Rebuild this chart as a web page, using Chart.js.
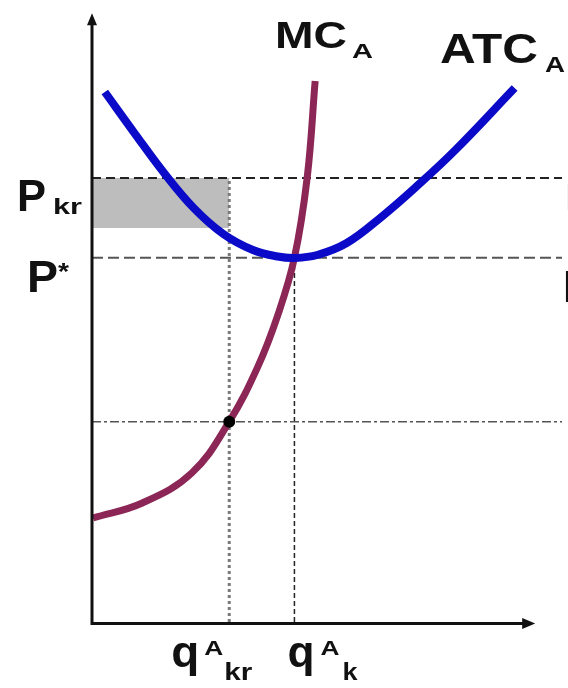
<!DOCTYPE html>
<html>
<head>
<meta charset="utf-8">
<script src="https://cdn.jsdelivr.net/npm/chart.js@4/dist/chart.umd.min.js"></script>
<style>
  html, body { margin: 0; padding: 0; background: #ffffff; }
  #wrap { width: 568px; height: 688px; }
</style>
</head>
<body>
<div id="wrap"><canvas id="c" width="568" height="688"></canvas></div>
<script>
// ---- Data (quantity on x, price/cost on y; arbitrary units 0..100) ----
const ATC_Q = [2.73, 9.03, 15.34, 21.64, 27.94, 34.24, 39.50, 43.07, 47.90, 54.20, 61.55, 68.91, 77.31, 89.92];
const ATC_P = [86.89, 80.16, 73.61, 67.87, 63.61, 60.98, 59.92, 59.67, 60.16, 62.13, 66.39, 71.31, 77.38, 87.54];

const MC_Q = [0.21, 10.71, 21.22, 29.20, 35.29, 39.50, 43.07, 45.80, 47.48];
const MC_P = [17.05, 19.51, 24.43, 32.84, 41.87, 50.23, 59.70, 72.95, 88.69];

const PRICE_LEVELS = [72.8, 59.7];          // P_kr, P*
const PRICE_NAMES = ['P', 'P'];
const PRICE_SUBS = ['kr', '*'];
const LOSS_LOW = 64.6;                      // lower edge of the shaded loss area
const Q_LEVELS = [29.2, 43.07];             // q^A_kr, q^A_k
const Q_SUBS = ['kr', 'k'];
const MC_AT_QKR = 32.84;                    // MC at q^A_kr (dot, dash-dot line)
const X_MAX = 100, Y_MAX = 100;
const AXIS_X_END = 94.3, AXIS_Y_END = 99.8;
const CURVE_NAMES = ['MC', 'ATC'];

const pts = (xs, ys) => xs.map((x, i) => ({ x: x, y: ys[i] }));
const FONT = "'Liberation Sans', Arial, Helvetica, sans-serif";

const bgPlugin = {
  id: 'bg',
  beforeDraw(chart) {
    const ctx = chart.ctx;
    ctx.save();
    ctx.fillStyle = '#ffffff';
    ctx.fillRect(0, 0, chart.width, chart.height);
    ctx.restore();
  }
};

function txt(ctx, s, left, baseline, size, width, weight) {
  ctx.save();
  ctx.font = (weight || 'bold') + ' ' + size + 'px ' + FONT;
  ctx.textBaseline = 'alphabetic';
  ctx.textAlign = 'left';
  const w = ctx.measureText(s).width;
  const sx = width ? width / w : 1;
  ctx.translate(left, baseline);
  ctx.scale(sx, 1);
  ctx.fillStyle = '#111111';
  ctx.fillText(s, 0, 0);
  ctx.restore();
}

const overlay = {
  id: 'overlay',
  afterDatasetsDraw(chart) {
    const ctx = chart.ctx;
    const xs = chart.scales.x, ys = chart.scales.y;
    const x0 = xs.getPixelForValue(0), y0 = ys.getPixelForValue(0);
    const xe = xs.getPixelForValue(AXIS_X_END), ye = ys.getPixelForValue(AXIS_Y_END);
    // axes
    ctx.save();
    ctx.strokeStyle = '#111111';
    ctx.fillStyle = '#111111';
    ctx.lineWidth = 3;
    ctx.beginPath();
    ctx.moveTo(x0, ye + 6);
    ctx.lineTo(x0, y0 + 1.5);
    ctx.lineTo(xe - 6, y0 + 1.5);
    ctx.stroke();
    ctx.beginPath();
    ctx.moveTo(x0, ye);
    ctx.lineTo(x0 - 5, ye + 12);
    ctx.lineTo(x0 + 5, ye + 12);
    ctx.closePath();
    ctx.fill();
    ctx.beginPath();
    ctx.moveTo(xe, y0 + 1.5);
    ctx.lineTo(xe - 13, y0 - 4);
    ctx.lineTo(xe - 13, y0 + 7);
    ctx.closePath();
    ctx.fill();
    ctx.restore();

    // price labels (left)
    const pk = ys.getPixelForValue(PRICE_LEVELS[0]);
    txt(ctx, PRICE_NAMES[0], 17, pk + 33, 44, 29);
    txt(ctx, PRICE_SUBS[0], 53, pk + 36, 22, 29);
    const ps = ys.getPixelForValue(PRICE_LEVELS[1]);
    txt(ctx, PRICE_NAMES[1], 27, ps + 34, 44, 31);
    txt(ctx, PRICE_SUBS[1], 58, ps + 22, 24, 11);

    // quantity labels (bottom)
    const qa = xs.getPixelForValue(Q_LEVELS[0]);
    txt(ctx, 'q', qa - 58, 667, 44, 28);
    txt(ctx, 'A', qa - 25, 655, 21, 19);
    txt(ctx, Q_SUBS[0], qa - 5, 680, 24, 28);
    const qb = xs.getPixelForValue(Q_LEVELS[1]);
    txt(ctx, 'q', qb - 7, 667, 44, 27);
    txt(ctx, 'A', qb + 26, 655, 21, 19);
    txt(ctx, Q_SUBS[1], qb + 48, 680, 24, 15);

    // curve labels (top)
    txt(ctx, CURVE_NAMES[0], 275, 48, 37, 72);
    txt(ctx, 'A', 352, 58, 20, 21);
    txt(ctx, CURVE_NAMES[1], 440, 63, 42, 98);
    txt(ctx, 'A', 545, 72, 22, 20);

    // clipped labels at the right edge
    txt(ctx, 'P', 565, pk + 32, 36, null, 'normal');
    txt(ctx, 'P', 563, ps + 44, 44, null, 'bold');
  }
};

const hLine = (y) => [{ x: 0, y: y }, { x: X_MAX, y: y }];
const vLine = (x, top) => [{ x: x, y: 0 }, { x: x, y: top }];

new Chart(document.getElementById('c'), {
  type: 'line',
  data: {
    datasets: [
      { label: 'dot', data: [{ x: Q_LEVELS[0], y: MC_AT_QKR }], showLine: false,
        pointRadius: 6, pointBackgroundColor: '#000000', pointBorderWidth: 0 },
      { label: 'ATC', data: pts(ATC_Q, ATC_P), borderColor: '#0a0ac8', borderWidth: 8,
        pointRadius: 0, tension: 0.4, borderCapStyle: 'butt', borderJoinStyle: 'round', fill: false },
      { label: 'MC', data: pts(MC_Q, MC_P), borderColor: '#8b2656', borderWidth: 7,
        pointRadius: 0, tension: 0.4, borderCapStyle: 'butt', borderJoinStyle: 'round', fill: false },
      { label: 'Pkr', data: hLine(PRICE_LEVELS[0]), borderColor: '#222222', borderWidth: 2,
        borderDash: [9, 5], pointRadius: 0, fill: false },
      { label: 'P*', data: hLine(PRICE_LEVELS[1]), borderColor: '#555555', borderWidth: 2,
        borderDash: [11, 5], pointRadius: 0, fill: false },
      { label: 'mc-level', data: hLine(MC_AT_QKR), borderColor: '#555555', borderWidth: 1.5,
        borderDash: [9, 3, 3, 3], pointRadius: 0, fill: false },
      { label: 'qkr', data: vLine(Q_LEVELS[0], PRICE_LEVELS[0]), borderColor: '#7a7a7a', borderWidth: 3,
        borderDash: [3, 3], pointRadius: 0, fill: false },
      { label: 'qk', data: vLine(Q_LEVELS[1], PRICE_LEVELS[1]), borderColor: '#222222', borderWidth: 1.5,
        borderDash: [5, 3], pointRadius: 0, fill: false },
      { label: 'loss', data: [{ x: 0, y: PRICE_LEVELS[0] }, { x: Q_LEVELS[0], y: PRICE_LEVELS[0] }],
        borderWidth: 0, borderColor: 'rgba(0,0,0,0)', backgroundColor: '#bdbdbd',
        pointRadius: 0, fill: { value: LOSS_LOW } }
    ]
  },
  options: {
    responsive: false,
    animation: false,
    events: [],
    layout: { padding: { left: 92, right: 0, top: 12, bottom: 66 } },
    plugins: { legend: { display: false }, tooltip: { enabled: false }, title: { display: false } },
    scales: {
      x: { type: 'linear', min: 0, max: X_MAX, display: false },
      y: { type: 'linear', min: 0, max: Y_MAX, display: false }
    }
  },
  plugins: [bgPlugin, overlay]
});
</script>
</body>
</html>
